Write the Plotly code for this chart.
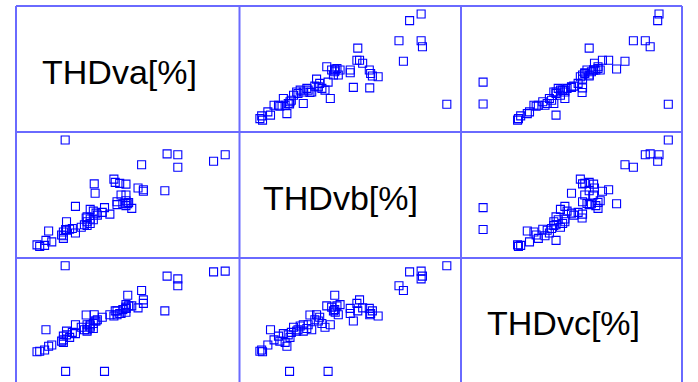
import plotly.graph_objects as go
from plotly.subplots import make_subplots

labels = ["THDva[%]", "THDvb[%]", "THDvc[%]"]

thdva = [4.68, 4.42, 3.62, 3.62, 3.38, 2.81, 3.33, 1.10, 1.11, 1.98,
         2.85, 2.73, 2.50, 2.46, 2.32, 2.22, 2.19, 1.75, 1.77, 0.67,
         1.57, 0.53, 0.47, 0.64, 1.06, 1.06, 1.33, 1.06, 0.73, 1.13,
         1.20, 1.46, 1.59, 1.66, 1.13, 1.59, 1.73, 1.59, 2.10, 1.79,
         1.73, 1.66, 2.59, 1.33, 2.46, 2.26, 2.46, 2.46, 2.46, 2.35,
         2.85, 2.39, 2.52, 2.26, 1.82, 1.93, 1.66, 1.53, 1.02, 1.26,
         0.80]
thdvb = [4.10, 3.84, 3.60, 4.10, 4.13, 3.70, 2.67, 4.68, 1.13, 2.00,
         2.71, 2.78, 2.15, 2.93, 2.96, 3.00, 3.13, 2.94, 2.57, 0.70,
         1.59, 0.46, 0.52, 0.50, 0.78, 0.88, 0.99, 1.03, 1.07, 1.10,
         1.14, 1.22, 1.29, 1.37, 1.44, 1.44, 1.52, 1.63, 1.74, 1.78,
         1.86, 1.93, 1.97, 2.05, 2.08, 2.12, 2.16, 2.27, 2.50, 2.50,
         2.65, 2.15, 2.20, 2.23, 1.70, 1.81, 1.55, 1.32, 0.91, 1.17,
         0.64]
thdvc = [4.48, 4.45, 3.90, 4.17, 4.28, 3.71, 2.90, 4.69, 0.50, 0.50,
         3.34, 3.02, 3.52, 3.00, 2.80, 2.90, 2.70, 2.75, 2.50, 2.15,
         2.74, 1.30, 1.28, 1.35, 1.75, 1.90, 2.00, 1.65, 1.50, 1.95,
         1.85, 2.25, 2.10, 2.30, 2.10, 2.35, 2.20, 2.15, 2.75, 2.50,
         2.40, 2.25, 3.10, 2.35, 3.05, 2.90, 2.85, 3.15, 3.00, 2.80,
         3.20, 2.95, 3.10, 2.75, 2.55, 2.65, 2.35, 2.15, 1.70, 2.05,
         1.55]

variables = [thdva, thdvb, thdvc]

W, H = 698, 382
ML, MR, MT, MB = 16, 16, 6, 0
pw, ph = W - ML - MR, H - MT - MB
col_px = [16, 239.5, 461, 682]
row_px = [6, 132, 258, 382]
xdom = [[(col_px[i] - ML) / pw, (col_px[i + 1] - ML) / pw] for i in range(3)]
ydom = [[(H - MB - row_px[i + 1]) / ph, (H - MB - row_px[i]) / ph] for i in range(3)]
xdom[2][1] = 1.0
ydom[0][1] = 1.0
ydom[2][0] = 0.0

fig = make_subplots(rows=3, cols=3, horizontal_spacing=0, vertical_spacing=0)

for r in range(3):
    for c in range(3):
        if r == c:
            continue
        fig.add_trace(go.Scatter(
            x=variables[c], y=variables[r], mode="markers",
            marker=dict(symbol="square-open", size=8, color="#0000ff",
                        line=dict(width=1.1, color="#0000ff")),
            hoverinfo="skip", showlegend=False),
            row=r + 1, col=c + 1)

for r in range(3):
    for c in range(3):
        yr = [0, 5] if r < 2 else [5 - 5 * 124 / 126, 5]
        fig.update_xaxes(domain=xdom[c], range=[0, 5], visible=False, row=r + 1, col=c + 1)
        fig.update_yaxes(domain=ydom[r], range=yr, visible=False, row=r + 1, col=c + 1)

line_col = "#6a6aff"
shapes = []
for xv in [0, xdom[1][0], xdom[2][0], 1]:
    shapes.append(dict(type="line", xref="paper", yref="paper", x0=xv, x1=xv, y0=0, y1=1,
                       line=dict(color=line_col, width=2)))
for yv in [1, ydom[0][0], ydom[1][0]]:
    shapes.append(dict(type="line", xref="paper", yref="paper", x0=0, x1=1, y0=yv, y1=yv,
                       line=dict(color=line_col, width=2)))

label_px = [(119, 72), (340, 198), (563.5, 323)]
annotations = []
for lab, (px, py) in zip(labels, label_px):
    annotations.append(dict(text=lab, xref="paper", yref="paper",
                            x=(px - ML) / pw, y=(H - MB - py) / ph,
                            xanchor="center", yanchor="middle", showarrow=False,
                            font=dict(family="Arial, Liberation Sans, sans-serif", size=34, color="black")))

fig.update_layout(width=W, height=H, margin=dict(l=ML, r=MR, t=MT, b=MB),
                  paper_bgcolor="white", plot_bgcolor="white",
                  shapes=shapes, annotations=annotations, showlegend=False)

fig.write_html("out.html", config={"displayModeBar": False},
               post_script="document.body.style.margin='0px';document.body.style.overflow='hidden';")
